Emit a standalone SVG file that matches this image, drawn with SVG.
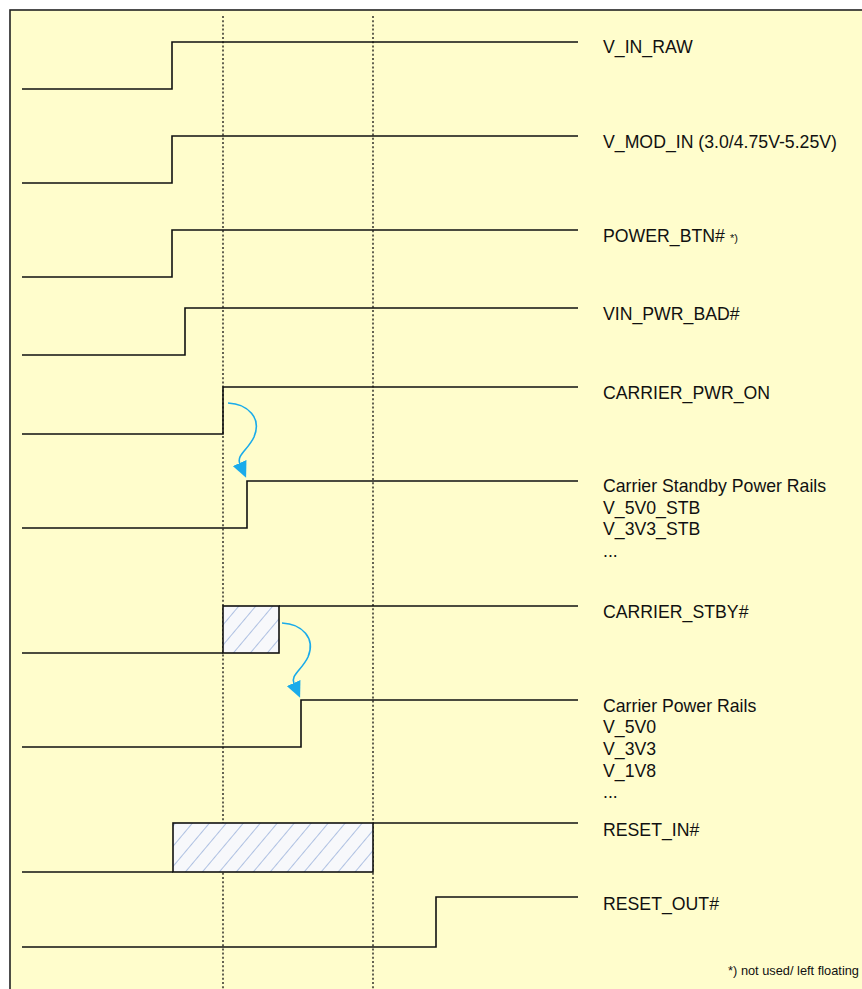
<svg xmlns="http://www.w3.org/2000/svg" width="862" height="989" viewBox="0 0 862 989">
<style>
.sig{fill:none;stroke:#111;stroke-width:1.6;stroke-linejoin:miter}
.grid{fill:none;stroke:#111;stroke-width:1.3;stroke-dasharray:2 2.2}
.lbl{font-family:"Liberation Sans",Arial,sans-serif;font-size:17.7px;fill:#111}
.small{font-family:"Liberation Sans",Arial,sans-serif;font-size:11px;fill:#111}
.hatch{fill:url(#hatch);stroke:#111;stroke-width:1.6}
.arr{fill:none;stroke:#1AABEA;stroke-width:1.6}
</style>
<defs>
<pattern id="hatch" patternUnits="userSpaceOnUse" width="13" height="13" patternTransform="rotate(40)">
<rect width="13" height="13" fill="#F7F8FB"/>
<line x1="0" y1="0" x2="0" y2="13" stroke="#AFC1E2" stroke-width="2"/>
</pattern>
<marker id="ah" markerUnits="userSpaceOnUse" markerWidth="16" markerHeight="15" refX="1" refY="7.5" orient="auto">
<path d="M0,0 L16,7.5 L0,15 z" fill="#1AABEA"/>
</marker>
</defs>
<rect x="10" y="10" width="900" height="1000" fill="#FFFDCC" stroke="#222" stroke-width="1.6"/>
<g id="timelines">
<line class="grid" x1="223" y1="16" x2="223" y2="989"/>
<line class="grid" x1="373" y1="16" x2="373" y2="989"/>
</g>
<g id="sig-v-in-raw">
<polyline class="sig" points="22,89 172,89 172,42 578,42"/>
<text class="lbl" x="603" y="53">V_IN_RAW</text>
</g>
<g id="sig-v-mod-in">
<polyline class="sig" points="22,183 172,183 172,136 578,136"/>
<text class="lbl" x="603" y="148">V_MOD_IN (3.0/4.75V-5.25V)</text>
</g>
<g id="sig-power-btn">
<polyline class="sig" points="22,277 172,277 172,230 578,230"/>
<text class="lbl" x="603" y="242">POWER_BTN#<tspan class="small" dx="5">*)</tspan></text>
</g>
<g id="sig-vin-pwr-bad">
<polyline class="sig" points="22,355 185,355 185,308 578,308"/>
<text class="lbl" x="603" y="320">VIN_PWR_BAD#</text>
</g>
<g id="sig-carrier-pwr-on">
<polyline class="sig" points="22,434 223,434 223,387 578,387"/>
<text class="lbl" x="603" y="399">CARRIER_PWR_ON</text>
</g>
<g id="sig-carrier-standby-rails">
<polyline class="sig" points="22,528 247,528 247,481 578,481"/>
<text class="lbl" x="603" y="492">Carrier Standby Power Rails</text>
<text class="lbl" x="603" y="514">V_5V0_STB</text>
<text class="lbl" x="603" y="535">V_3V3_STB</text>
<text class="lbl" x="603" y="557">...</text>
</g>
<g id="sig-carrier-stby">
<polyline class="sig" points="22,653 223,653"/>
<rect class="hatch" x="223" y="606" width="56" height="47"/>
<polyline class="sig" points="279,606 578,606"/>
<text class="lbl" x="603" y="618">CARRIER_STBY#</text>
</g>
<g id="sig-carrier-power-rails">
<polyline class="sig" points="22,747 301,747 301,700 578,700"/>
<text class="lbl" x="603" y="712">Carrier Power Rails</text>
<text class="lbl" x="603" y="733">V_5V0</text>
<text class="lbl" x="603" y="755">V_3V3</text>
<text class="lbl" x="603" y="777">V_1V8</text>
<text class="lbl" x="603" y="798">...</text>
</g>
<g id="sig-reset-in">
<polyline class="sig" points="22,872 173,872"/>
<rect class="hatch" x="173" y="823" width="200" height="49"/>
<polyline class="sig" points="373,823 578,823"/>
<text class="lbl" x="603" y="836">RESET_IN#</text>
</g>
<g id="sig-reset-out">
<polyline class="sig" points="22,947 436,947 436,897 578,897"/>
<text class="lbl" x="603" y="910">RESET_OUT#</text>
</g>
<g id="connectors">
<path class="arr" marker-end="url(#ah)" d="M228,403 C248,404 262,418 254,437 C248,450 236,455 240,464"/>
<path class="arr" marker-end="url(#ah)" d="M282,623 C302,624 316,638 308,657 C302,670 290,675 294,684"/>
</g>
<g id="footnote">
<text class="small" x="859" y="975" text-anchor="end" style="font-size:12.8px">*) not used/ left floating</text>
</g>
</svg>
